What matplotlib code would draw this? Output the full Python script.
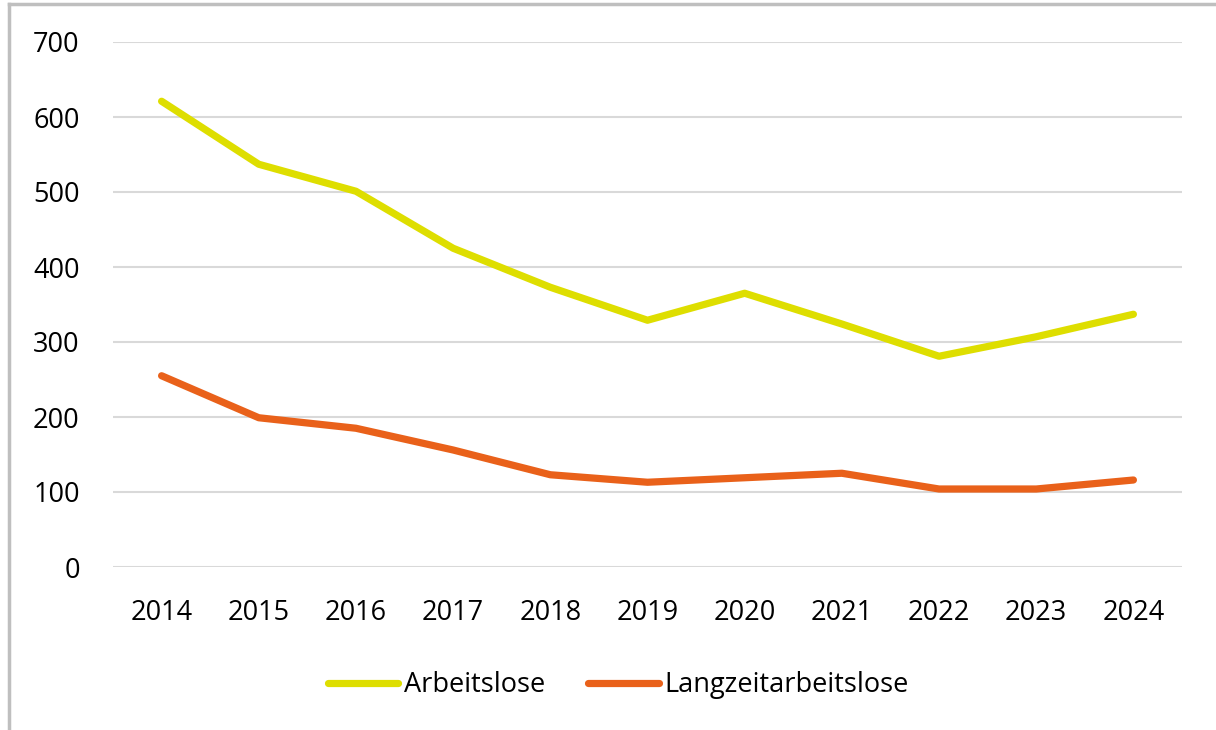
import matplotlib
matplotlib.use("Agg")
import matplotlib.pyplot as plt
from matplotlib.lines import Line2D

years = ["2014", "2015", "2016", "2017", "2018", "2019", "2020", "2021", "2022", "2023", "2024"]
arbeitslose = [621, 537, 501, 425, 373, 329, 365, 324, 281, 307, 337]
langzeit = [255, 199, 185, 156, 123, 113, 119, 125, 104, 104, 116]

plt.rcParams['font.family'] = ['Open Sans', 'DejaVu Sans']

fig = plt.figure(figsize=(12.16, 7.30), dpi=100)
ax = fig.add_axes([113/1216, 1 - 567/730, (1182 - 113)/1216, (567 - 42)/730])

x = range(len(years))
ax.plot(x, arbeitslose, color="#dede00", lw=5.2, solid_capstyle="round", label="Arbeitslose")
ax.plot(x, langzeit, color="#e9611a", lw=5.2, solid_capstyle="round", label="Langzeitarbeitslose")

ax.set_xlim(-0.5, len(years) - 0.5)
ax.set_ylim(0, 700)
ax.set_yticks(range(0, 701, 100))
ax.set_xticks(list(x))
ax.set_xticklabels(years)
ax.grid(axis="y", color="#d9d9d9", lw=1.5)
ax.set_axisbelow(True)
for s in ax.spines.values():
    s.set_visible(False)
ax.tick_params(length=0, labelsize=19.5, colors="black")
ax.tick_params(axis="y", pad=24)
ax.tick_params(axis="x", pad=23)

fig.legend(loc="center", bbox_to_anchor=(618/1216, 1 - 685/730), ncol=2, frameon=False,
           fontsize=19.5, handlelength=2.6, columnspacing=1.6, handletextpad=0.2)

# outer frame (left and top edges visible)
fig.add_artist(Line2D([9/1216, 9/1216], [0, 1 - 4/730], color="#bfbfbf", lw=2.5, transform=fig.transFigure))
fig.add_artist(Line2D([9/1216, 1], [1 - 4/730, 1 - 4/730], color="#bfbfbf", lw=2.5, transform=fig.transFigure))

fig.savefig("out.png", dpi=100)
